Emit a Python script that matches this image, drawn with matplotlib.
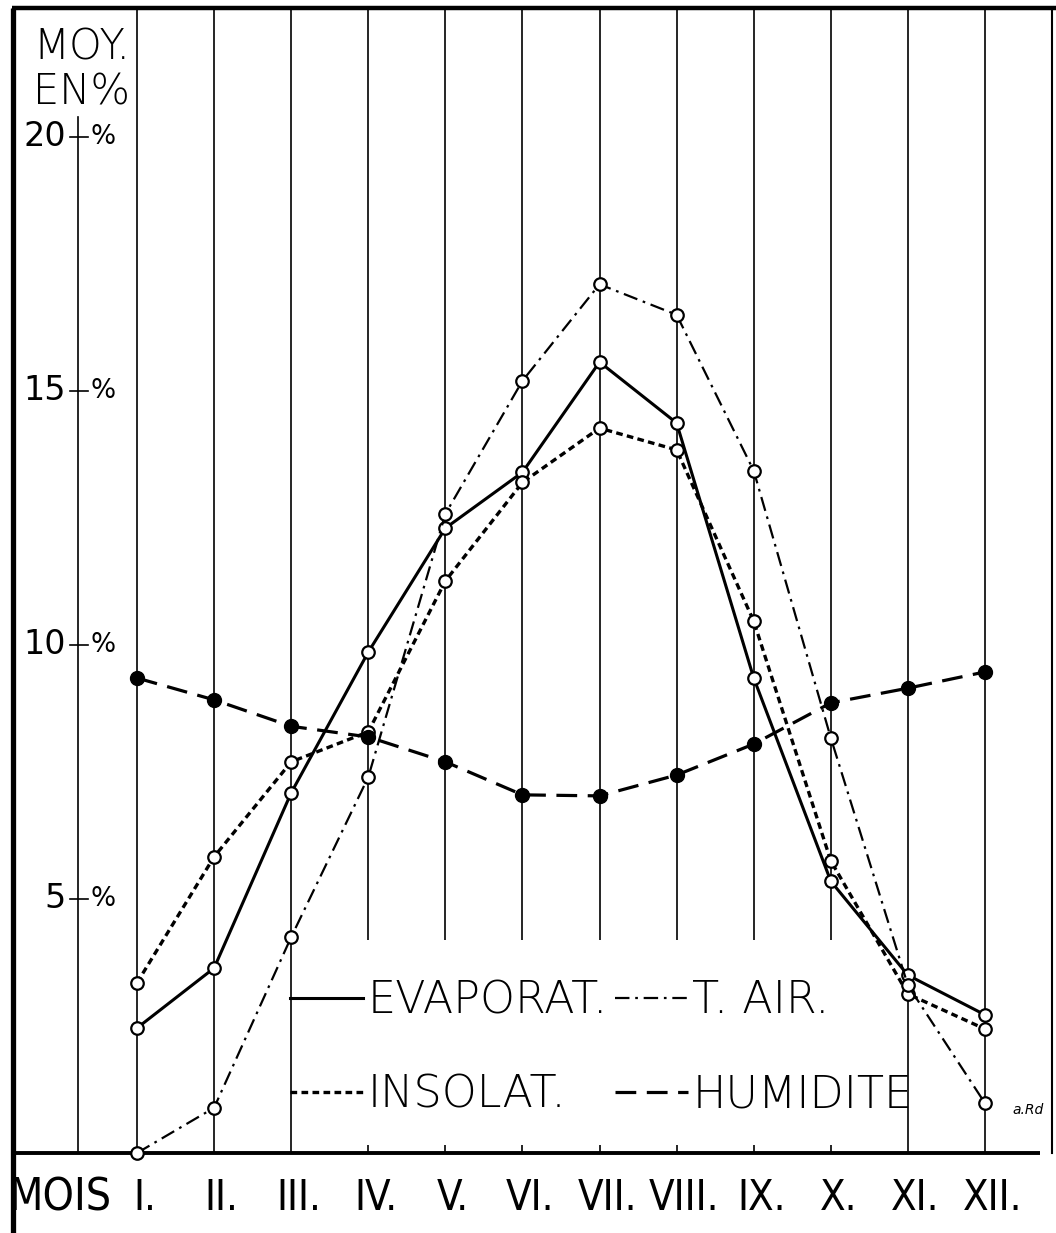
import matplotlib
matplotlib.use("Agg")
import matplotlib.pyplot as plt
from matplotlib.lines import Line2D

# ---------------- data ----------------
months = ["I.", "II.", "III.", "IV.", "V.", "VI.", "VII.", "VIII.", "IX.", "X.", "XI.", "XII."]
evaporat = [2.46, 3.64, 7.09, 9.86, 12.30, 13.40, 15.57, 14.37, 9.35, 5.35, 3.50, 2.72]
insolat = [3.35, 5.83, 7.70, 8.29, 11.26, 13.20, 14.27, 13.84, 10.47, 5.75, 3.13, 2.44]
t_air = [0.00, 0.89, 4.25, 7.40, 12.58, 15.20, 17.10, 16.50, 13.43, 8.17, 3.30, 0.98]
humidite = [9.35, 8.92, 8.40, 8.19, 7.70, 7.05, 7.03, 7.44, 8.05, 8.86, 9.15, 9.47]
y_ticks = [5, 10, 15, 20]
legend_labels = ["EVAPORAT.", "INSOLAT.", "T. AIR.", "HUMIDITE"]

W, H = 1056, 1233
X0, DX = 137.0, 77.09     # pixel of month I and month spacing
Y0, DY = 1153.0, 50.8     # pixel of 0 % and pixels per 1 %


def xd(px):
    return 1 + (px - X0) / DX


def yd(py):
    return (Y0 - py) / DY


fig = plt.figure(figsize=(W / 100, H / 100), dpi=100)
ax = fig.add_axes([0, 0, 1, 1])
ax.set_xlim(xd(0), xd(W))
ax.set_ylim(yd(H), yd(0))
ax.axis("off")

x = list(range(1, len(months) + 1))
top = yd(8)
legend_top = yd(940)

# frame
ax.plot([xd(12), xd(W)], [top, top], color="black", lw=3.2, solid_capstyle="butt")
ax.plot([xd(13), xd(13)], [top, yd(H)], color="black", lw=3.8, solid_capstyle="butt")
ax.plot([xd(1052), xd(1052)], [top, 0], color="black", lw=1.5)
ax.plot([xd(12), xd(1040)], [0, 0], color="black", lw=2.8, solid_capstyle="butt", zorder=4)
# y-axis line
ax.plot([xd(78), xd(78)], [yd(117), 0], color="black", lw=1.2)

# month vertical lines
full = [1, 2, 3, 11, 12]
for xi in x:
    ymin = 0 if xi in full else legend_top
    ax.vlines(xi, ymin, top, color="black", lw=1.2, zorder=1)
    if xi not in full:
        ax.vlines(xi, 0, yd(1145), color="black", lw=1.2, zorder=1)

# y tick labels
for v in y_ticks:
    ax.text(xd(66), v, str(v), ha="right", va="center", fontsize=24,
            family="DejaVu Sans", color="black")
    ax.plot([xd(70), xd(88)], [v, v], color="black", lw=1.2)
    ax.text(xd(90), v, "%", ha="left", va="center", fontsize=19,
            family="DejaVu Sans", color="black")

ax.text(xd(33), yd(47), "MOY.", ha="left", va="center", fontsize=30,
        family="DejaVu Sans", fontweight="light", color="black")
ax.text(xd(33), yd(92), "EN%", ha="left", va="center", fontsize=30,
        family="DejaVu Sans", fontweight="light", color="black")

# month labels
cond = {"family": "DejaVu Sans", "stretch": "condensed", "weight": "light"}
ax.text(xd(8), yd(1198), "MOIS", ha="left", va="center", fontsize=32,
        color="black", **cond)
for xi, lab in zip(x, months):
    ax.text(xi + 0.1, yd(1198), lab, ha="center", va="center", fontsize=30,
            color="black", **cond)

# series
ms = 9
ax.plot(x, evaporat, color="black", lw=2.2, marker="o", ms=ms, mfc="white",
        mec="black", mew=1.6, zorder=5)
ax.plot(x, insolat, color="black", lw=2.4, dashes=(2.0, 1.3), marker="o", ms=ms,
        mfc="white", mec="black", mew=1.6, zorder=5)
ax.plot(x, t_air, color="black", lw=1.6, dashes=(6.5, 2.6, 1.2, 2.6), marker="o",
        ms=ms, mfc="white", mec="black", mew=1.6, zorder=5)
ax.plot(x, humidite, color="black", lw=2.3, dashes=(6.5, 3.3), marker="o", ms=10,
        mfc="black", mec="black", zorder=6)

handles = [
    Line2D([], [], color="black", lw=2.2),
    Line2D([], [], color="black", lw=2.4, dashes=(2.0, 1.3)),
    Line2D([], [], color="black", lw=1.6, dashes=(6.5, 2.6, 1.2, 2.6)),
    Line2D([], [], color="black", lw=2.3, dashes=(6.5, 3.3)),
]
leg = ax.legend(handles, legend_labels, ncol=2, loc="center left",
                bbox_to_anchor=(xd(290), yd(1048)), bbox_transform=ax.transData,
                frameon=False, borderpad=0, borderaxespad=0, handlelength=1.65,
                handletextpad=0.1, columnspacing=0.15, labelspacing=1.15,
                prop={"family": "DejaVu Sans", "weight": "light", "size": 32})

ax.text(xd(1012), yd(1110), "a.Rd", ha="left", va="center", fontsize=10,
        fontstyle="italic", family="DejaVu Sans", color="black")

fig.savefig("out.png", dpi=100)
